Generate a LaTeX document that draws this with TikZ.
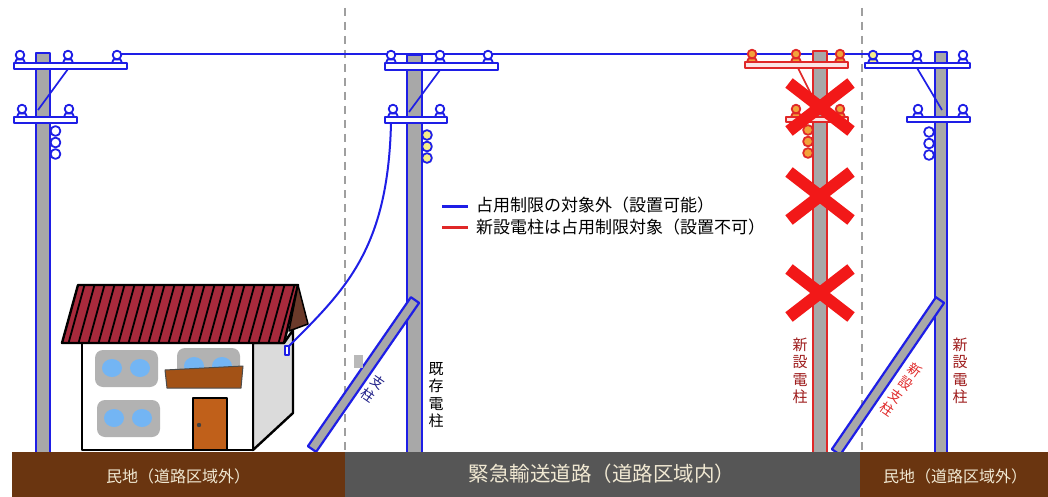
\documentclass[tikz,border=0pt]{standalone}
\usepackage{fontspec}
\setmainfont{Noto Sans CJK JP}
\definecolor{pblue}{HTML}{1E1EE6}
\definecolor{pgray}{HTML}{A8A8A8}
\definecolor{pred}{HTML}{E02828}
\definecolor{xred}{HTML}{F21818}
\definecolor{insor}{HTML}{F2A23A}
\definecolor{insye}{HTML}{F6EE8A}
\definecolor{soil}{HTML}{6A3510}
\definecolor{road}{HTML}{565656}
\definecolor{cream}{HTML}{F0E8D2}
\definecolor{roofred}{HTML}{A82A3C}
\definecolor{gable}{HTML}{6B3A2A}
\definecolor{winblue}{HTML}{5AA8F2}
\definecolor{wood}{HTML}{C0601A}
\definecolor{darkred}{HTML}{9E1C1C}
\definecolor{navy}{HTML}{1C1C86}
% one insulator standing on a cross-arm: x, top of arm, outline, fill
\newcommand\insul[4]{%
  \filldraw[fill=#4,draw=#3,line width=1.8] (#1-5,#2) -- (#1-3.5,#2-3.5) -- (#1+3.5,#2-3.5) -- (#1+5,#2) -- cycle;
  \filldraw[fill=#4,draw=#3,line width=1.8] (#1,#2-8) circle (4.3);}
% three stacked coils beside a pole: x, first y, outline, fill
\newcommand\coils[4]{%
  \foreach \k in {0,1,2} {\filldraw[fill=#4,draw=#3,line width=1.8] (#1,#2+11.5*\k) circle (4.9);}}
\tikzset{
  polebody/.style={line width=2.3},
  armbox/.style={fill=white,line width=2.2},
  brace/.style={line width=1.7},
  strutbox/.style={fill=pgray,draw=pblue,line width=2.2},
  xmark/.style={xred,line width=12},
  vlabel/.style={align=center,font=\fontsize{15}{17.5}\selectfont,inner sep=0pt},
  slabel/.style={align=center,font=\fontsize{13.5}{16}\selectfont,inner sep=0pt,rotate=-35},
  legtext/.style={anchor=west,font=\fontsize{17}{17}\selectfont,inner sep=0pt},
  gtext/.style={text=cream,font=\fontsize{16}{16}\selectfont,inner sep=0pt},
  zoneline/.style={gray!75,line width=1.8,dash pattern=on 8pt off 6pt},
  outline/.style={draw=black,line width=2.4},
}
\begin{document}
\begin{tikzpicture}[x=1pt,y=-1pt,line join=round]
\useasboundingbox (0,0) rectangle (1048,497);
\fill[white] (0,0) rectangle (1048,497);

% zone borders
\draw[zoneline] (345,8) -- (345,452);
\draw[zoneline] (862,8) -- (862,452);

% ---- house ----
\filldraw[fill=gray!28,outline] (253,343) -- (284,343) -- (293,330) -- (293,413) -- (253,450) -- cycle;
\filldraw[fill=white,outline] (82,343) rectangle (253,450);
\begin{scope}
  \clip (78,285) -- (298,285) -- (284,343) -- (62,343) -- cycle;
  \fill[roofred] (60,280) rectangle (300,345);
  \foreach \s in {58,68,...,300} {\draw[black,line width=1.8] (\s,345) -- (\s+16.5,285);}
\end{scope}
\draw[outline] (78,285) -- (298,285) -- (284,343) -- (62,343) -- cycle;
\filldraw[fill=gable,draw=black,line width=1.5] (298,285) -- (308,324) -- (289,331) -- cycle;
% windows
\foreach \wx/\wy/\wh in {95/350/37, 97/400/37, 177/348/30} {
  \fill[gray!60,rounded corners=8] (\wx,\wy) rectangle ++(63,\wh);
  \fill[winblue!85] (\wx+17,\wy+18) ellipse (10 and 9);
  \fill[winblue!85] (\wx+45,\wy+18) ellipse (10 and 9);
}
\filldraw[fill=wood!85!black,draw=black!70,line width=1] (165,370) -- (243,366) -- (241,388) -- (167,388) -- cycle;
\filldraw[fill=wood,outline] (193,398) rectangle (227,450);
\fill[black!75] (199,425) circle (2.2);

% ---- overhead line ----
\draw[pblue,line width=2.4] (117,54) -- (917,54);
% service drop to the house
\draw[pblue,line width=2] (391,123) .. controls (388,250) and (345,290) .. (287,348);
\draw[pblue,line width=1.4,fill=white] (285,346) rectangle (289,355);

% ---- left existing pole ----
\filldraw[fill=pgray,draw=pblue,polebody] (36,53) rectangle (50,456);
\filldraw[draw=pblue,armbox] (14,63) rectangle (127,69);
\filldraw[draw=pblue,armbox] (14,117) rectangle (77,123);
\draw[pblue,brace] (68,69) -- (38,110);
\foreach \ix in {20,68,117} {\insul{\ix}{63}{pblue}{white}}
\foreach \ix in {22,69} {\insul{\ix}{117}{pblue}{white}}
\coils{55.5}{131}{pblue}{white}

% ---- middle existing pole ----
\filldraw[fill=pgray,draw=pblue,polebody] (407,55) rectangle (422,456);
\filldraw[draw=pblue,armbox] (385,63) rectangle (498,70);
\filldraw[draw=pblue,armbox] (385,117) rectangle (447,123);
\draw[pblue,brace] (440,70) -- (409,112);
\foreach \ix in {391,440,488} {\insul{\ix}{63}{pblue}{white}}
\foreach \ix in {393,440} {\insul{\ix}{117}{pblue}{white}}
\coils{427}{135}{pblue}{insye}

% ---- new pole (not allowed) ----
\filldraw[fill=pgray,draw=pred,polebody] (813,51) rectangle (827,456);
\filldraw[draw=pred,armbox,fill=pred!12] (745,62) rectangle (848,68);
\filldraw[draw=pred,armbox,fill=pred!12] (786,117) rectangle (848,122);
\draw[pred,brace] (798,68) -- (814,100);
\foreach \ix in {752,796,840} {\insul{\ix}{62}{pred}{insor}}
\foreach \ix in {796,840} {\insul{\ix}{117}{pred}{insor}}
\coils{808}{130}{pred}{insor}

% ---- right new pole ----
\filldraw[fill=pgray,draw=pblue,polebody] (935,52) rectangle (947,456);
\filldraw[draw=pblue,armbox] (865,63) rectangle (970,68);
\filldraw[draw=pblue,armbox] (907,117) rectangle (970,122);
\draw[pblue,brace] (917,68) -- (942,110);
\insul{873}{63}{pblue}{insye}
\foreach \ix in {917,963} {\insul{\ix}{63}{pblue}{white}}
\foreach \ix in {918,963} {\insul{\ix}{117}{pblue}{white}}
\coils{929}{132}{pblue}{white}

% ---- struts ----
\filldraw[strutbox] (307.9,446.2) -- (316.1,451.9) -- (419.1,302.9) -- (410.9,297.2) -- cycle;
\filldraw[strutbox] (831.9,449.2) -- (840.1,454.9) -- (944.1,302.9) -- (935.9,297.2) -- cycle;
\fill[gray!55] (354,355) rectangle (363,368);

% ---- prohibition marks ----
\foreach \cy in {107,196,293} {
  \draw[xmark] (789,\cy-24) -- (851,\cy+24);
  \draw[xmark] (851,\cy-24) -- (789,\cy+24);
}

% ---- ground ----
\fill[soil] (12,452) rectangle (345,497);
\fill[road] (345,452) rectangle (860,497);
\fill[soil] (860,452) rectangle (1048,497);
\node[gtext] (g1) at (178,476) {民地（道路区域外）};
\node[gtext,font=\fontsize{20.5}{20.5}\selectfont] (g2) at (602,474) {緊急輸送道路（道路区域内）};
\node[gtext] (g3) at (955,476) {民地（道路区域外）};

% ---- labels ----
\node[vlabel] (l1) at (436,395) {既\\存\\電\\柱};
\node[vlabel,text=darkred] (l2) at (800,371) {新\\設\\電\\柱};
\node[vlabel,text=darkred] (l3) at (960,371) {新\\設\\電\\柱};
\node[slabel,text=navy] (l4) at (373,389) {支\\柱};
\node[slabel,text=pred] (l5) at (901,390) {新\\設\\支\\柱};

% ---- legend ----
\coordinate (b1) at (442,206);
\coordinate (b2) at (468,206);
\coordinate (r1) at (442,227);
\coordinate (r2) at (468,227);
\draw[pblue,line width=3] (b1) -- (b2);
\draw[pred,line width=3] (r1) -- (r2);
\node[legtext] (t1) at (476,205) {占用制限の対象外（設置可能）};
\node[legtext] (t2) at (476,227) {新設電柱は占用制限対象（設置不可）};
\end{tikzpicture}
\end{document}
